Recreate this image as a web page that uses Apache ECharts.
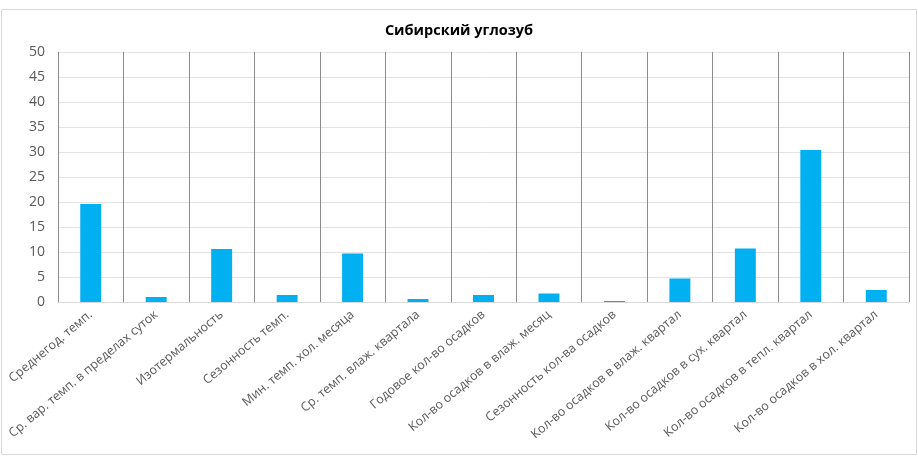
<!DOCTYPE html>
<html>
<head>
<meta charset="utf-8">
<script src="https://cdn.jsdelivr.net/npm/echarts@6/dist/echarts.min.js"></script>
<style>
  html, body { margin: 0; padding: 0; background: #ffffff; }
  #chart { width: 918px; height: 457px; }
</style>
</head>
<body>
<div id="chart"></div>
<script>
// Bioclimatic variables for the Siberian salamander
const categories = [
  'Среднегод. темп.',
  'Ср. вар. темп. в пределах суток',
  'Изотермальность',
  'Сезонность темп.',
  'Мин. темп. хол. месяца',
  'Ср. темп. влаж. квартала',
  'Годовое кол-во осадков',
  'Кол-во осадков в влаж. месяц',
  'Сезонность кол-ва осадков',
  'Кол-во осадков в влаж. квартал',
  'Кол-во осадков в сух. квартал',
  'Кол-во осадков в тепл. квартал',
  'Кол-во осадков в хол. квартал'
];
const values = [19.6, 1.0, 10.6, 1.4, 9.7, 0.6, 1.4, 1.7, 0.2, 4.7, 10.7, 30.4, 2.4];
const chartTitle = 'Сибирский углозуб';

const chart = echarts.init(document.getElementById('chart'), null, { renderer: 'canvas' });
const font = 'Open Sans, Liberation Sans, sans-serif';

chart.setOption({
  animation: false,
  backgroundColor: '#ffffff',
  graphic: [{
    type: 'rect',
    shape: { x: 1.5, y: 9.5, width: 915, height: 445 },
    style: { fill: 'none', stroke: '#d9d9d9', lineWidth: 1 },
    silent: true
  }],
  title: {
    text: chartTitle,
    left: 'center',
    top: 18,
    textStyle: { fontFamily: font, fontSize: 14.5, fontWeight: 'bold', color: '#000000' }
  },
  grid: { left: 58, right: 9, top: 52, bottom: 155, containLabel: false },
  xAxis: {
    type: 'category',
    data: categories,
    boundaryGap: true,
    axisLine: { show: true, lineStyle: { color: '#d9d9d9', width: 1 } },
    axisTick: { show: false },
    splitLine: { show: true, lineStyle: { color: '#8c8c8c', width: 1 } },
    axisLabel: {
      interval: 0,
      rotate: 40,
      margin: 11,
      fontFamily: font,
      fontSize: 12.5,
      color: '#595959'
    }
  },
  yAxis: {
    type: 'value',
    min: 0,
    max: 50,
    interval: 5,
    axisLine: { show: false },
    axisTick: { show: false },
    splitLine: { lineStyle: { color: '#e3e3e3', width: 1 } },
    axisLabel: { fontFamily: font, fontSize: 14, color: '#595959', margin: 13 }
  },
  series: [{
    type: 'bar',
    data: values,
    barWidth: '32%',
    itemStyle: { color: '#00b0f0' }
  }]
});
</script>
</body>
</html>
